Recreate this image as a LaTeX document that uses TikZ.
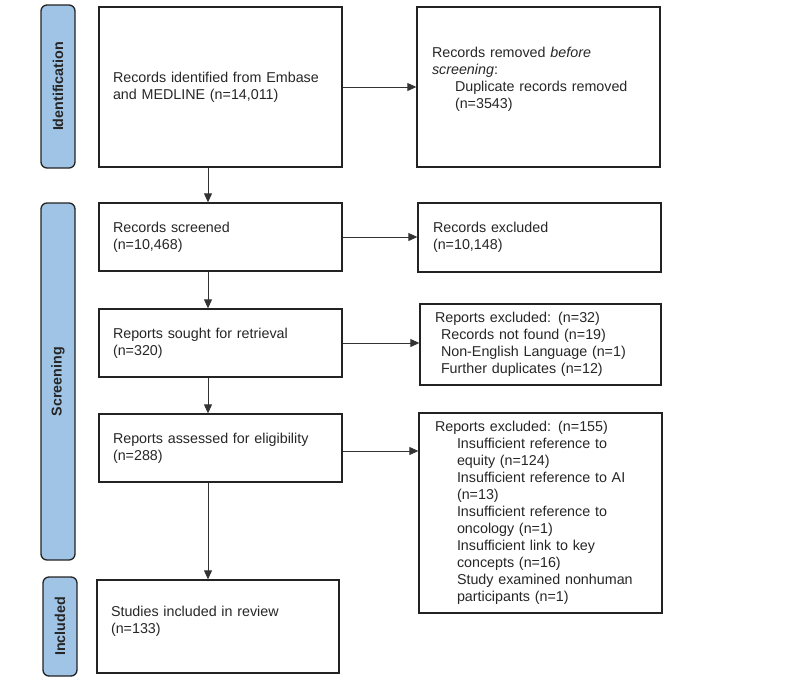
\documentclass[tikz,border=0pt]{standalone}
\usepackage{fontspec}
\setmainfont{Liberation Sans}
\usetikzlibrary{arrows.meta}
\definecolor{barblue}{RGB}{160,196,230}
\definecolor{edge}{RGB}{35,35,35}
\begin{document}
\begin{tikzpicture}[x=1pt,y=-1pt,
  box/.style={draw=edge,line width=1.3pt,rectangle,inner xsep=14pt,inner ysep=0pt,
    align=left,font=\fontsize{14.3}{17}\selectfont,text=black!85},
  bar/.style={draw=edge,line width=1.3pt,fill=barblue,rounded corners=6pt,rectangle,
    minimum width=34pt,inner sep=0pt},
  barlabel/.style={rotate=90,font=\fontsize{14.3}{17}\selectfont\bfseries,text=black!85},
  arr/.style={draw=black!80,line width=0.9pt,-{Triangle[length=9pt,width=8pt]}}]
\useasboundingbox (0,0) rectangle (800,680);
% side bars
\node[bar,minimum height=163pt] (idbar) at (58,86.5) {};
\node[barlabel] (idlab) at (idbar.center) {Identification};
\node[bar,minimum height=357pt] (scbar) at (58,381.5) {};
\node[barlabel] (sclab) at (scbar.center) {Screening};
\node[bar,minimum height=99pt] (inbar) at (60,626.5) {};
\node[barlabel] (inlab) at (inbar.center) {Included};
% left column
\node[box,minimum width=243pt,minimum height=160pt,text width=215pt] (b1) at (220.5,87)
  {Records identified from Embase\\and MEDLINE (n=14,011)};
\node[box,minimum width=243pt,minimum height=68pt,text width=215pt] (b3) at (220.5,237)
  {Records screened\\(n=10,468)};
\node[box,minimum width=243pt,minimum height=68pt,text width=215pt] (b5) at (220.5,343)
  {Reports sought for retrieval\\(n=320)};
\node[box,minimum width=243pt,minimum height=68pt,text width=215pt] (b7) at (220.5,448)
  {Reports assessed for eligibility\\(n=288)};
\node[box,minimum width=242pt,minimum height=93pt,text width=214pt,text depth=31pt] (b9) at (218,626.5)
  {Studies included in review\\(n=133)};
% right column
\node[box,minimum width=243pt,minimum height=160pt,text width=213pt,inner xsep=15pt,text depth=69pt] (b2) at (538.5,87)
  {Records removed \textit{before}\\\textit{screening}:\\\hspace*{23pt}Duplicate records removed\\\hspace*{23pt}(n=3543)};
\node[box,minimum width=243pt,minimum height=69pt,text width=213pt,inner xsep=15pt] (b4) at (539.5,237.5)
  {Records excluded\\(n=10,148)};
\node[box,minimum width=241pt,minimum height=81pt,text width=211pt,inner xsep=15pt] (b6) at (540.5,344.5)
  {Reports excluded: (n=32)\\\hspace*{6pt}Records not found (n=19)\\\hspace*{6pt}Non-English Language (n=1)\\\hspace*{6pt}Further duplicates (n=12)};
\node[box,minimum width=243pt,minimum height=200pt,text width=211pt,inner xsep=16pt] (b8) at (540.5,513)
  {Reports excluded: (n=155)\\
   \hspace*{22pt}Insufficient reference to\\
   \hspace*{22pt}equity (n=124)\\
   \hspace*{22pt}Insufficient reference to AI\\
   \hspace*{22pt}(n=13)\\
   \hspace*{22pt}Insufficient reference to\\
   \hspace*{22pt}oncology (n=1)\\
   \hspace*{22pt}Insufficient link to key\\
   \hspace*{22pt}concepts (n=16)\\
   \hspace*{22pt}Study examined nonhuman\\
   \hspace*{22pt}participants (n=1)};
% connectors
\coordinate (vx) at (208,0);
\draw[arr] (b1.south -| vx) -- (b3.north -| vx);
\draw[arr] (b3.south -| vx) -- (b5.north -| vx);
\draw[arr] (b5.south -| vx) -- (b7.north -| vx);
\draw[arr] (b7.south -| vx) -- (b9.north -| vx);
\draw[arr] (b1.east) -- (b1.east -| b2.west);
\draw[arr] (b3.east) -- (b3.east -| b4.west);
\draw[arr] (b5.east) -- (b5.east -| b6.west);
\draw[arr] ([yshift=-3pt]b7.east) -- ([yshift=-3pt]b7.east -| b8.west);
\end{tikzpicture}
\end{document}
